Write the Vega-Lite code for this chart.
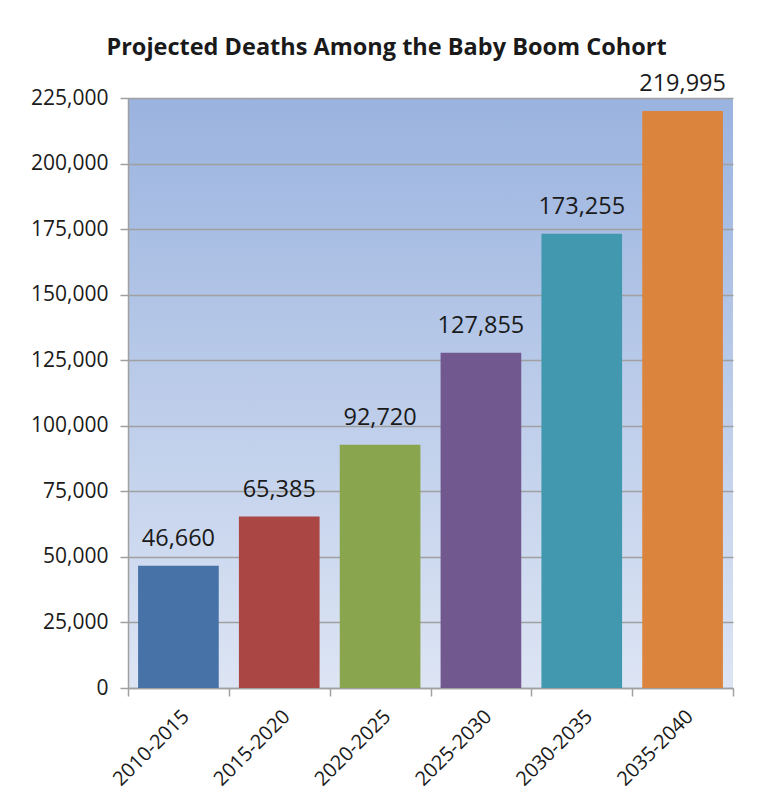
{
  "$schema": "https://vega.github.io/schema/vega-lite/v6.json",
  "autosize": {"type": "none"},
  "width": 605,
  "height": 590,
  "padding": {"left": 128, "top": 98, "right": 26, "bottom": 122},
  "background": "white",
  "title": {
    "text": "Projected Deaths Among the Baby Boom Cohort",
    "font": "Open Sans",
    "fontSize": 23.5,
    "fontWeight": "bold",
    "color": "#1a1a1a",
    "anchor": "middle",
    "dx": -44,
    "offset": 13
  },
  "config": {
    "view": {
      "stroke": null,
      "fill": {
        "gradient": "linear",
        "x1": 0, "y1": 0, "x2": 0, "y2": 1,
        "stops": [
          {"offset": 0, "color": "#9ab3df"},
          {"offset": 1, "color": "#dde5f4"}
        ]
      }
    },
    "axis": {
      "labelFont": "Open Sans",
      "labelFontSize": 21,
      "labelColor": "#1a1a1a",
      "domainColor": "#a0a0a0",
      "tickColor": "#a0a0a0",
      "gridColor": "#a0a0a0",
      "domainWidth": 1.5,
      "tickWidth": 1.5,
      "gridWidth": 1.5
    }
  },
  "data": {
    "values": [
      {"period": "2010-2015", "deaths": 46660},
      {"period": "2015-2020", "deaths": 65385},
      {"period": "2020-2025", "deaths": 92720},
      {"period": "2025-2030", "deaths": 127855},
      {"period": "2030-2035", "deaths": 173255},
      {"period": "2035-2040", "deaths": 219995}
    ]
  },
  "encoding": {
    "x": {
      "field": "period",
      "type": "nominal",
      "sort": null,
      "scale": {"paddingInner": 0, "paddingOuter": 0},
      "axis": {
        "title": null,
        "labelAngle": -45,
        "labelFontSize": 20,
        "tickBand": "extent",
        "tickSize": 8,
        "labelPadding": 10,
        "grid": false
      }
    },
    "y": {
      "field": "deaths",
      "type": "quantitative",
      "scale": {"domain": [0, 225000], "nice": false},
      "axis": {
        "title": null,
        "values": [0, 25000, 50000, 75000, 100000, 125000, 150000, 175000, 200000, 225000],
        "format": ",.0f",
        "tickSize": 8,
        "labelPadding": 12,
        "grid": true
      }
    }
  },
  "layer": [
    {
      "mark": {"type": "bar", "width": {"band": 0.8}},
      "encoding": {
        "color": {
          "field": "period",
          "type": "nominal",
          "sort": null,
          "legend": null,
          "scale": {"range": ["#4672a8", "#aa4643", "#89a54e", "#71588f", "#4198af", "#db843d"]}
        }
      }
    },
    {
      "mark": {"type": "text", "dy": -27, "font": "Open Sans", "fontSize": 23.5, "color": "#1a1a1a"},
      "encoding": {
        "text": {"field": "deaths", "type": "quantitative", "format": ",.0f"}
      }
    }
  ]
}
